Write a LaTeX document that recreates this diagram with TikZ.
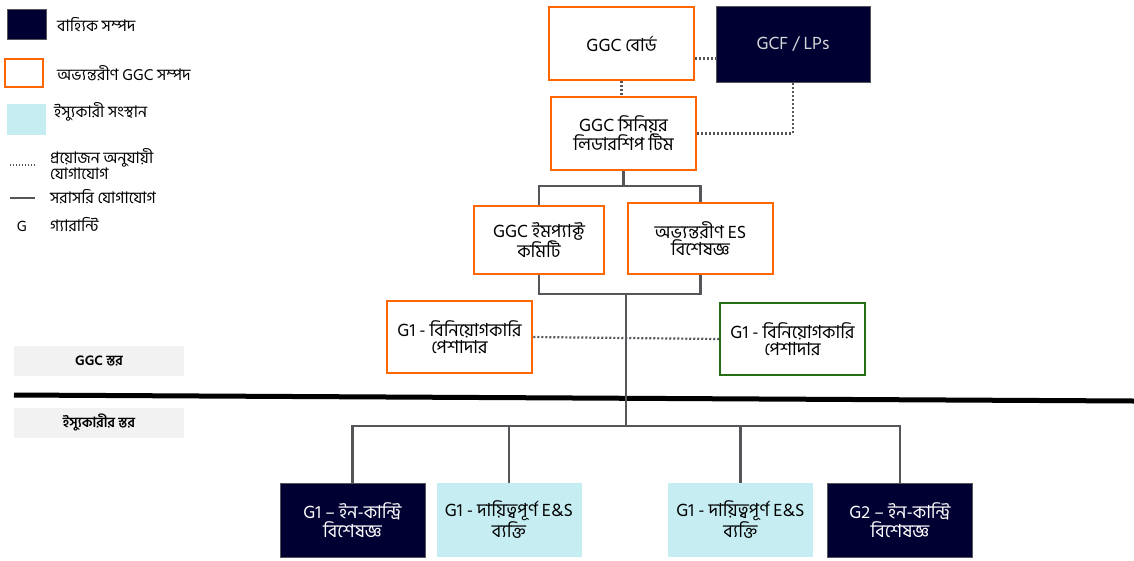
\documentclass[tikz,border=0pt]{standalone}
\usepackage{fontspec}
\setmainfont[Script=Bengali]{Hind Siliguri}
\usetikzlibrary{positioning, calc}
\definecolor{navy}{RGB}{0,0,51}
\definecolor{ggcorange}{RGB}{255,102,0}
\definecolor{issuercyan}{RGB}{198,238,242}
\definecolor{linegray}{RGB}{85,85,90}
\definecolor{layergray}{RGB}{242,242,242}
\definecolor{extgreen}{RGB}{40,110,20}

\begin{document}
\begin{tikzpicture}[x=1pt, y=-1pt, font=\fontsize{18}{17}\selectfont, align=center, inner sep=2pt,
  box/.style={minimum width=145pt, minimum height=73pt},
  ggcbox/.style={box, draw=ggcorange, line width=2.5pt, fill=white},
  extbox/.style={box, fill=navy, draw=linegray, line width=0.6pt, text=white},
  issuerbox/.style={box, fill=issuercyan},
  direct/.style={draw=linegray, line width=2.2pt},
  adhoc/.style={draw=linegray, line width=2.2pt, dash pattern=on 2pt off 2pt},
  legtext/.style={anchor=west, align=left, font=\fontsize{16}{15}\selectfont},
  layer/.style={fill=layergray, minimum width=170pt, minimum height=30pt, font=\fontsize{14}{14}\selectfont\bfseries}]
\useasboundingbox (0,0) rectangle (1134,560);

\node[extbox, minimum width=39pt, minimum height=30pt] (legext) at (26.5,24) {};
\node[legtext] (legexttxt) at (55,25) {বাহ্যিক সম্পদ};
\node[ggcbox, minimum width=38pt, minimum height=28pt] (legggc) at (24,73) {};
\node[legtext] (legggctxt) at (55,73) {অভ্যন্তরীণ GGC সম্পদ};
\node[issuerbox, minimum width=39pt, minimum height=31pt] (legiss) at (26.5,119.5) {};
\node[legtext] (legisstxt) at (52,112) {ইস্যুকারী সংস্থান};
\coordinate (ldota) at (10,165);
\coordinate (ldotb) at (35,165);
\draw[adhoc, line width=1.4pt, dash pattern=on 1.4pt off 1.6pt] (ldota) -- (ldotb);
\node[legtext] (legdottxt) at (48,164) {প্রয়োজন অনুযায়ী\\যোগাযোগ};
\coordinate (lsola) at (10,198);
\coordinate (lsolb) at (35,198);
\draw[direct, line width=1.8pt] (lsola) -- (lsolb);
\node[legtext] (legsoltxt) at (48,197) {সরাসরি যোগাযোগ};
\node[font=\fontsize{15}{15}\selectfont] (legg) at (22,226) {G};
\node[legtext] (leggtxt) at (48,225) {গ্যারান্টি};

\node[ggcbox] (board) at (621.5,43.5) {GGC বোর্ড};
\node[extbox, minimum width=154pt, minimum height=76pt, text=black!15] (gcf) at (793,44) {GCF / LPs};
\node[ggcbox] (senior) at (623.5,133.5) {GGC সিনিয়র\\লিডারশিপ টিম};
\node[ggcbox, minimum width=130pt, minimum height=68pt] (impact) at (539,240) {GGC ইমপ্যাক্ট\\কমিটি};
\node[ggcbox, minimum height=71pt] (intes) at (700.5,238.5) {অভ্যন্তরীণ ES\\বিশেষজ্ঞ};
\node[ggcbox, minimum height=72pt] (invleft) at (459.5,337) {G1 - বিনিয়োগকারি\\পেশাদার};
\node[box, draw=extgreen, line width=1.5pt, minimum height=72pt] (invright) at (792.5,339) {G1 - বিনিয়োগকারি\\পেশাদার};

\node[layer] (ggclayer) at (99,361) {GGC স্তর};
\node[layer] (isslayer) at (99,422.5) {ইস্যুকারীর স্তর};
\coordinate (divl) at (14,395);
\coordinate (divr) at (1134,401);
\draw[line width=5pt] (divl) -- (divr);

\node[extbox, minimum height=74pt] (inca) at (352.5,520) {G1 – ইন-কান্ট্রি\\বিশেষজ্ঞ};
\node[issuerbox, minimum height=74pt] (respa) at (509,520) {G1 - দায়িত্বপূর্ণ E\&S\\ব্যক্তি};
\node[issuerbox, minimum height=74pt] (respb) at (740.5,520) {G1 - দায়িত্বপূর্ণ E\&S\\ব্যক্তি};
\node[extbox, minimum height=74pt] (incb) at (900,520) {G2 – ইন-কান্ট্রি\\বিশেষজ্ঞ};

\coordinate (boardgcf) at ([yshift=-15pt]board.east);
\draw[adhoc] (boardgcf) -- (boardgcf -| gcf.west);
\draw[adhoc] (board.south) -- (board.south |- senior.north);
\draw[adhoc] (senior.east) -| (gcf.south);
\draw[adhoc] (invleft.east) -- (invright.west);

\coordinate (split) at (623.5,186);
\coordinate (merge) at (626,294);
\coordinate (bus) at (626,426);
\draw[direct] (senior.south) -- (split);
\draw[direct] (impact.north) |- (split) -| (intes.north);
\draw[direct] (impact.south) |- (merge) -| (intes.south);
\draw[direct] (merge) -- (bus);
\draw[direct] (inca.north) |- (bus) -| (incb.north);
\draw[direct] (respa.north) |- (bus);
\draw[direct] (respb.north) |- (bus);
\end{tikzpicture}
\end{document}
